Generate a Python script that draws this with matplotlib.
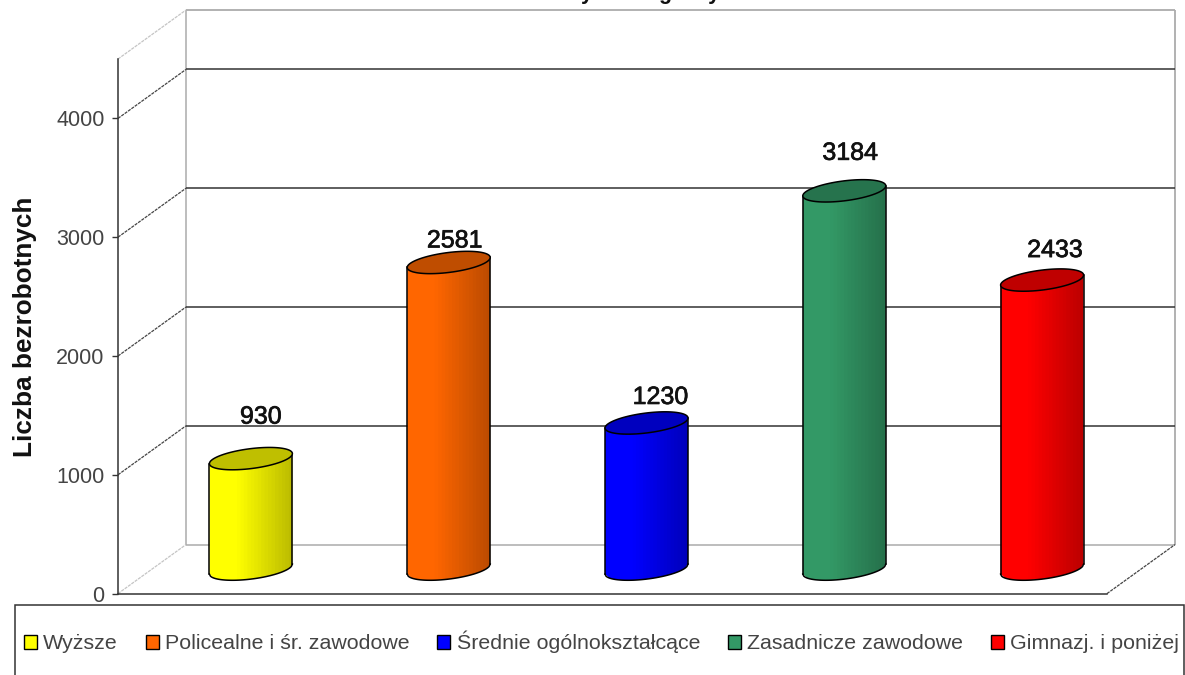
import numpy as np
import matplotlib
matplotlib.use("Agg")
import matplotlib.pyplot as plt
import matplotlib.patheffects as pe
from matplotlib.patches import Patch, Polygon, Rectangle

categories = ["Wyższe", "Policealne i śr. zawodowe", "Średnie ogólnokształcące",
              "Zasadnicze zawodowe", "Gimnazj. i poniżej"]
values = [930, 2581, 1230, 3184, 2433]
colors = ["#FFFF00", "#FF6600", "#0000FF", "#339966", "#FF0000"]
y_ticks = [0, 1000, 2000, 3000, 4000]
y_title = "Liczba bezrobotnych"

# label placement relative to bar centre / top (pixels)
label_dx = [10, 6, 14, 6, 13]
label_dy = [35, 15, 19, 31, 23]

plt.rcParams["font.family"] = ["Liberation Sans", "DejaVu Sans"]
W, H = 1185, 675
fig = plt.figure(figsize=(W / 100, H / 100), dpi=100, facecolor="white")
L, R, T, B = 118, 1107, 59, 593.6
ax = fig.add_axes([L / W, 1 - B / H, (R - L) / W, (B - T) / H])
ax.set_xlim(0, 5)
ax.set_ylim(0, 4500)
ax.set_facecolor("none")
px_x = (R - L) / 5            # pixels per category
px_y = (B - T) / 4500         # pixels per value unit
DX, DY = 68 / px_x, 49 / px_y  # depth of the 3-D box, data units

for s in ("top", "right"):
    ax.spines[s].set_visible(False)
ax.spines["left"].set_color("#333333")
ax.spines["left"].set_linewidth(1.1)
ax.spines["bottom"].set_color("#333333")
ax.spines["bottom"].set_linewidth(1.1)
ax.set_xticks([])
ax.set_yticks(y_ticks)
ax.tick_params(axis="y", length=4.3, width=1.0, color="#333333", pad=5.5,
               labelsize=15.5, labelcolor="#444444")
fig.text(25 / W, 1 - 327 / H, y_title, rotation=90, ha="center", va="center",
         fontsize=18.8, fontweight="bold", color="#111111")

kw = dict(clip_on=False, solid_capstyle="butt")
GRAY, DARK = "#ababab", "#333333"
DASH = (0, (2.5, 0.8))
top = 4500
# back wall and floor frame
ax.plot([DX, DX], [DY, top + DY], color=GRAY, lw=1.1, **kw)
ax.plot([5 + DX, 5 + DX], [DY, top + DY], color=GRAY, lw=1.3, **kw)
ax.plot([DX, 5 + DX], [top + DY, top + DY], color=GRAY, lw=1.3, **kw)
ax.plot([DX, 5 + DX], [DY, DY], color=GRAY, lw=1.1, **kw)
ax.plot([0, DX], [top, top + DY], color="#c4c4c4", lw=0.9, ls=DASH, clip_on=False)
ax.plot([0, DX], [0, DY], color="#c4c4c4", lw=0.9, ls=DASH, clip_on=False)
ax.plot([5, 5 + DX], [0, DY], color="#444444", lw=0.9, ls=DASH, clip_on=False)
for v in y_ticks[1:]:
    ax.plot([DX, 5 + DX], [v + DY, v + DY], color=DARK, lw=1.1, **kw)
    ax.plot([0, DX], [v, v + DY], color="#444444", lw=0.9, ls=DASH, clip_on=False)

# cylinders
a = 41.5 / px_x
tilt, minor = 5 / px_y, 10 / px_y
cx_off, cy_off = DX / 2, DY / 2


def shade(rgb, s):
    f = 1.0 if s < -0.35 else 1.0 - 0.27 * (s + 0.35) / 1.35
    return tuple(c * f for c in rgb)


def lower(s, y):
    return y + tilt * s - minor * np.sqrt(np.clip(1 - s ** 2, 0, 1))


for i, (val, col) in enumerate(zip(values, colors)):
    rgb = matplotlib.colors.to_rgb(col)
    cx = i + 0.5 + cx_off
    y0, y1 = cy_off, val + cy_off
    edges = np.linspace(-1, 1, 25)
    for s0, s1 in zip(edges[:-1], edges[1:]):
        c = shade(rgb, (s0 + s1) / 2)
        s2 = min(1.0, s1 + 0.03)
        ax.add_patch(Polygon([(cx + a * s0, lower(s0, y0)), (cx + a * s2, lower(s2, y0)),
                              (cx + a * s2, lower(s2, y1)), (cx + a * s0, lower(s0, y1))],
                             closed=True, fc=c, ec="none", clip_on=False, zorder=3))
    ss = np.linspace(-1, 1, 80)
    ax.plot(cx + a * ss, lower(ss, y0), color="black", lw=1.1, clip_on=False, zorder=4)
    ax.plot([cx - a, cx - a], [lower(-1, y0), lower(-1, y1)], color="black", lw=1.1, clip_on=False, zorder=4)
    ax.plot([cx + a, cx + a], [lower(1, y0), lower(1, y1)], color="black", lw=1.1, clip_on=False, zorder=4)
    t = np.linspace(0, 2 * np.pi, 100)
    ax.add_patch(Polygon(np.column_stack([cx + a * np.cos(t),
                                          y1 + tilt * np.cos(t) + minor * np.sin(t)]),
                         closed=True, fc=tuple(c * 0.75 for c in rgb), ec="black", lw=1.1,
                         clip_on=False, zorder=5))
    txt = ax.annotate(str(val), xy=(cx, y1), xytext=(label_dx[i] * 0.72, label_dy[i] * 0.72),
                      textcoords="offset points", ha="center", va="baseline",
                      fontsize=18, color="#111111", zorder=6, annotation_clip=False)
    txt.set_path_effects([pe.withStroke(linewidth=0.5, foreground="#111111")])

# clipped title fragments at the very top of the image
fig.text(651 / W, 1 + 1.5 / H, "y           g      y", ha="center", va="baseline",
         fontsize=15.5, fontweight="bold", color="#111111")

# legend box
fig.add_artist(Rectangle((15 / W, 1 - 680 / H), 1169 / W, 75 / H, transform=fig.transFigure,
                         fc="white", ec="#333333", lw=1.1, zorder=1))
handles = [Patch(fc=c, ec="black", lw=1.0, label=n) for c, n in zip(colors, categories)]
leg = fig.legend(handles=handles, ncols=5, frameon=False, loc="center left",
                 bbox_to_anchor=(24 / W, 1 - 642 / H), fontsize=15.4, labelcolor="#444444",
                 handlelength=0.6, handleheight=0.6, handletextpad=0.3,
                 columnspacing=1.3, borderaxespad=0, borderpad=0)
leg.set_zorder(2)

fig.savefig("out.png", dpi=100, facecolor="white")
